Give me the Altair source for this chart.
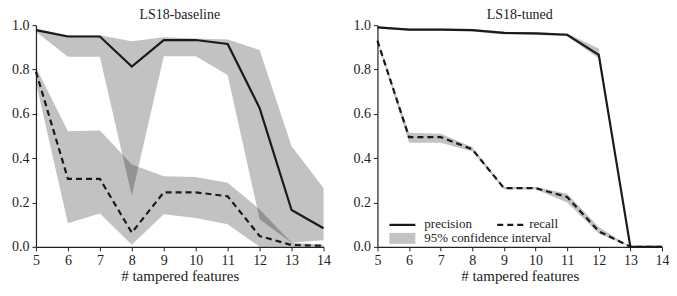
import altair as alt
import pandas as pd

x_vals = [5, 6, 7, 8, 9, 10, 11, 12, 13, 14]

# LS18-baseline
base_prec = [0.978, 0.949, 0.949, 0.813, 0.933, 0.933, 0.915, 0.626, 0.166, 0.084]
base_prec_lo = [0.970, 0.858, 0.858, 0.229, 0.860, 0.860, 0.775, 0.124, 0.019, 0.030]
base_prec_hi = [0.985, 0.955, 0.955, 0.928, 0.945, 0.940, 0.935, 0.888, 0.454, 0.266]
base_rec = [0.790, 0.307, 0.307, 0.064, 0.246, 0.246, 0.228, 0.049, 0.008, 0.005]
base_rec_lo = [0.740, 0.106, 0.150, 0.010, 0.147, 0.130, 0.102, 0.000, 0.000, 0.000]
base_rec_hi = [0.810, 0.521, 0.525, 0.371, 0.319, 0.315, 0.289, 0.169, 0.020, 0.010]

# LS18-tuned
tuned_prec = [0.990, 0.980, 0.980, 0.978, 0.965, 0.963, 0.957, 0.866, 0.000, 0.000]
tuned_prec_lo = [0.985, 0.975, 0.975, 0.972, 0.958, 0.956, 0.950, 0.850, 0.000, 0.000]
tuned_prec_hi = [0.995, 0.985, 0.985, 0.983, 0.970, 0.968, 0.963, 0.895, 0.000, 0.000]
tuned_rec = [0.930, 0.495, 0.495, 0.440, 0.265, 0.265, 0.225, 0.070, 0.000, 0.000]
tuned_rec_lo = [0.925, 0.470, 0.470, 0.430, 0.260, 0.260, 0.200, 0.060, 0.000, 0.000]
tuned_rec_hi = [0.935, 0.515, 0.510, 0.450, 0.270, 0.270, 0.240, 0.090, 0.000, 0.000]

x_ticks = list(range(5, 15))
y_ticks = [0.0, 0.2, 0.4, 0.6, 0.8, 1.0]

FONT = "Liberation Serif"
LINE = "#1a1a1a"
H = 222


def panel(title, prec, plo, phi, rec, rlo, rhi, width, legend=False):
    df = pd.DataFrame({"x": x_vals, "prec": prec, "plo": plo, "phi": phi,
                       "rec": rec, "rlo": rlo, "rhi": rhi})
    xenc = alt.X("x:Q", scale=alt.Scale(domain=[5, 14], nice=False),
                 axis=alt.Axis(values=x_ticks, format="d", title="# tampered features",
                               labelFlush=False))
    yscale = alt.Scale(domain=[0, 1], nice=False)
    yaxis = alt.Axis(values=y_ticks, format=".1f", title=None, labelFlush=False)
    base = alt.Chart(df)
    band_p = base.mark_area(color="black", opacity=0.24).encode(
        x=xenc, y=alt.Y("plo:Q", scale=yscale, axis=yaxis), y2="phi:Q")
    band_r = base.mark_area(color="black", opacity=0.24).encode(
        x=xenc, y=alt.Y("rlo:Q", scale=yscale, axis=yaxis), y2="rhi:Q")
    line_p = base.mark_line(color=LINE, strokeWidth=2.2).encode(
        x=xenc, y=alt.Y("prec:Q", scale=yscale, axis=yaxis))
    line_r = base.mark_line(color=LINE, strokeWidth=2.2, strokeDash=[6, 4]).encode(
        x=xenc, y=alt.Y("rec:Q", scale=yscale, axis=yaxis))
    layers = [band_p, band_r, line_p, line_r]
    if legend:
        one = alt.Chart(pd.DataFrame({"k": [0]}))
        layers += [
            one.mark_rule(color=LINE, strokeWidth=2.2).encode(
                x=alt.value(12), x2=alt.value(38), y=alt.value(200)),
            one.mark_rule(color=LINE, strokeWidth=2.2, strokeDash=[6, 4]).encode(
                x=alt.value(120), x2=alt.value(146), y=alt.value(200)),
            one.mark_rect(color="black", opacity=0.24).encode(
                x=alt.value(12), x2=alt.value(38), y=alt.value(208), y2=alt.value(219)),
            one.mark_text(font=FONT, fontSize=13, align="left", baseline="middle", color="#222").encode(
                x=alt.value(47), y=alt.value(199), text=alt.value("precision")),
            one.mark_text(font=FONT, fontSize=13, align="left", baseline="middle", color="#222").encode(
                x=alt.value(152), y=alt.value(199), text=alt.value("recall")),
            one.mark_text(font=FONT, fontSize=13, align="left", baseline="middle", color="#222").encode(
                x=alt.value(47), y=alt.value(213), text=alt.value("95% confidence interval")),
        ]
    return alt.layer(*layers).properties(
        width=width, height=H,
        title=alt.TitleParams(title, font=FONT, fontSize=14, fontWeight="normal", offset=-4, color="#222"))


left = panel("LS18-baseline", base_prec, base_prec_lo, base_prec_hi,
             base_rec, base_rec_lo, base_rec_hi, 288)
right = panel("LS18-tuned", tuned_prec, tuned_prec_lo, tuned_prec_hi,
              tuned_rec, tuned_rec_lo, tuned_rec_hi, 285, legend=True)

chart = alt.hconcat(left, right, spacing=22).properties(
    padding={"left": 3, "top": 0, "right": 0, "bottom": 0}
).configure_view(stroke=None).configure_axis(
    grid=False, domainColor="#222", tickColor="#222", domainWidth=1.2,
    tickSize=4, labelFont=FONT, labelFontSize=14, labelColor="#222",
    titleFont=FONT, titleFontSize=15, titleFontWeight="normal", titleColor="#222",
    labelPadding=3, titlePadding=1
)

chart.save("out.html", embed_options={"renderer": "svg", "actions": False})
